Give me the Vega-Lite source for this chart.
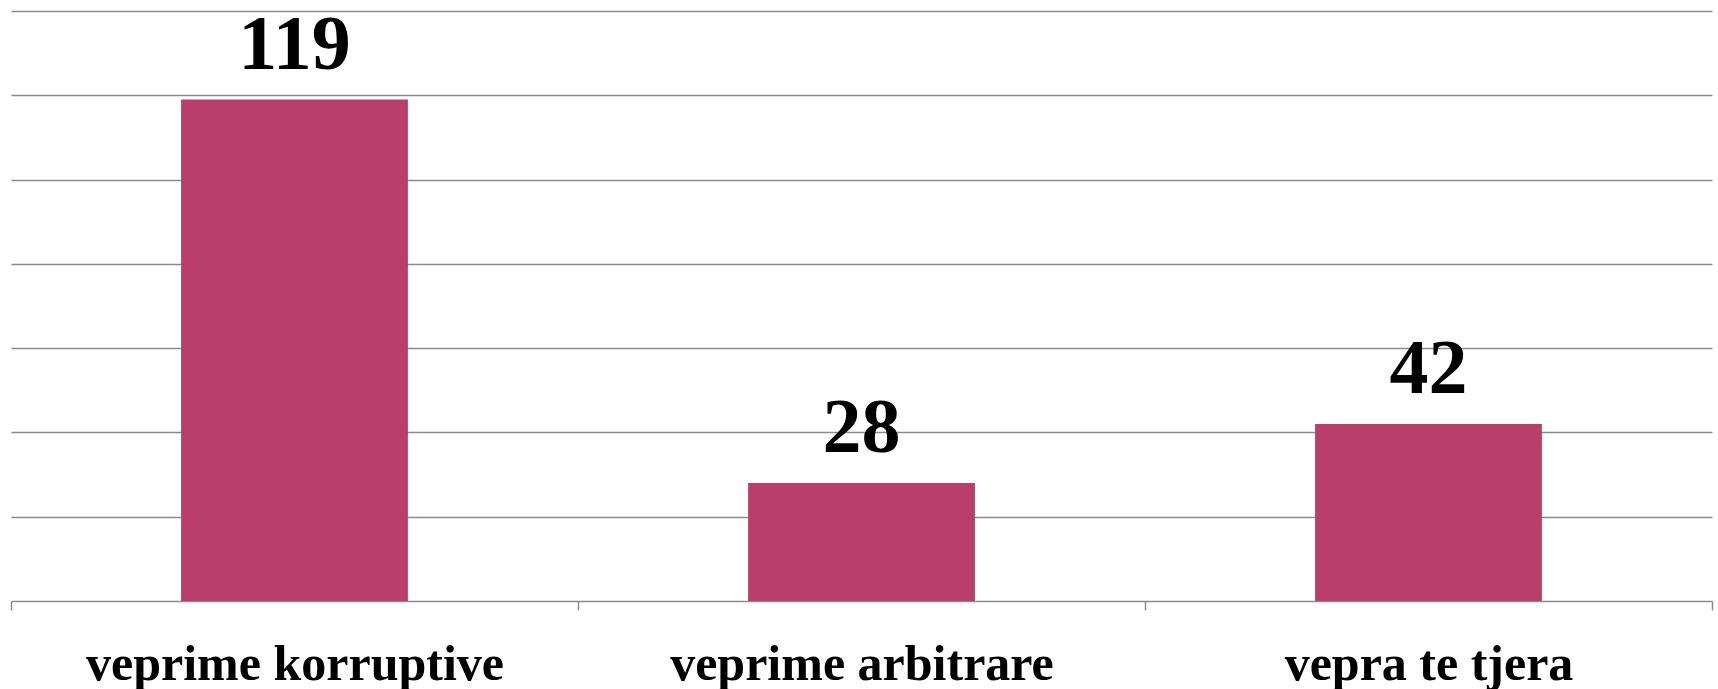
{
  "$schema": "https://vega.github.io/schema/vega-lite/v6.json",
  "width": 1701,
  "height": 590,
  "autosize": "none",
  "padding": {"left": 11, "top": 11, "right": 6, "bottom": 88},
  "background": "white",
  "data": {"values": [
    {"kategoria": "veprime korruptive", "vlera": 119},
    {"kategoria": "veprime arbitrare", "vlera": 28},
    {"kategoria": "vepra te tjera", "vlera": 42}
  ]},
  "encoding": {
    "x": {"field": "kategoria", "type": "nominal", "sort": null,
      "scale": {"paddingInner": 0, "paddingOuter": 0},
      "axis": {"title": null, "labelAngle": 0, "labelLimit": 0, "labelFont": "Liberation Serif", "labelFontSize": 50, "labelFontWeight": "bold", "labelColor": "black", "labelPadding": 29, "tickBand": "extent", "tickSize": 9, "tickColor": "#8c8c8c", "tickWidth": 1.5, "domainColor": "#8c8c8c", "domainWidth": 1.5, "grid": false}},
    "y": {"field": "vlera", "type": "quantitative",
      "scale": {"domain": [0, 140]},
      "axis": {"title": null, "labels": false, "ticks": false, "domain": false, "values": [20, 40, 60, 80, 100, 120, 140], "grid": true, "gridColor": "#8c8c8c", "gridWidth": 1.5}}
  },
  "layer": [
    {"mark": {"type": "bar", "color": "#B93E69", "width": {"band": 0.4}}},
    {"mark": {"type": "text", "font": "Liberation Serif", "fontSize": 78, "fontWeight": "bold", "color": "black", "baseline": "alphabetic", "dy": -31},
     "encoding": {"text": {"field": "vlera", "type": "quantitative"}}}
  ],
  "config": {"view": {"stroke": null}}
}
